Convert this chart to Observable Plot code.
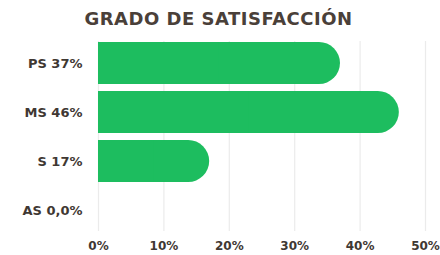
<!DOCTYPE html>
<html>
<head>
<meta charset="utf-8">
<script src="https://cdn.jsdelivr.net/npm/d3@7"></script>
<script src="https://cdn.jsdelivr.net/npm/@observablehq/plot@0.6"></script>
<style>
  html, body { margin: 0; padding: 0; background: #ffffff; }
  #title {
    width: 440px; height: 30px; line-height: 37px; text-align: center;
    font-family: "DejaVu Sans", sans-serif; font-weight: bold; font-size: 18px;
    color: #4a4039; letter-spacing: 0.5px; white-space: nowrap; padding-right: 3px; box-sizing: border-box;
  }
  #chart svg { display: block; }
</style>
</head>
<body>
<div id="title">GRADO DE SATISFACCIÓN</div>
<div id="chart"></div>
<script>
const categories = ["PS", "MS", "S", "AS"];
const values = [37, 46, 17, 0];
const categoryLabels = ["PS 37%", "MS 46%", "S 17%", "AS 0,0%"];
const xTicks = [0, 10, 20, 30, 40, 50];

const data = categories.map((c, i) => ({cat: c, value: values[i], half: values[i] / 2}));
const labelOf = new Map(categories.map((c, i) => [c, categoryLabels[i]]));

const green = "#1dbd5f";
const textColor = "#3f3833";

const chart = Plot.plot({
  width: 440,
  height: 225,
  marginTop: 11,
  marginBottom: 24,
  marginLeft: 98,
  marginRight: 15,
  style: {fontFamily: "DejaVu Sans, sans-serif", fontWeight: "bold", color: textColor, background: "#ffffff"},
  x: {domain: [0, 50], ticks: xTicks, tickFormat: d => d + "%", label: null},
  y: {domain: categories, paddingInner: 0.143, paddingOuter: 0, label: null},
  marks: [
    Plot.gridX(xTicks, {stroke: "#ebebeb", strokeOpacity: 1, strokeWidth: 1.2}),
    Plot.barX(data.filter(d => d.value > 0), {x: "value", y: "cat", fill: green, rx: 21}),
    Plot.barX(data.filter(d => d.value > 0), {x: "half", y: "cat", fill: green}),
    Plot.axisX(xTicks, {tickSize: 0, tickPadding: 10, fontSize: 12, fill: textColor, tickFormat: d => d + "%"}),
    Plot.axisY({tickSize: 0, tickPadding: 16, fontSize: 13, fill: textColor, tickFormat: d => labelOf.get(d)})
  ]
});
document.getElementById("chart").appendChild(chart);
</script>
</body>
</html>
